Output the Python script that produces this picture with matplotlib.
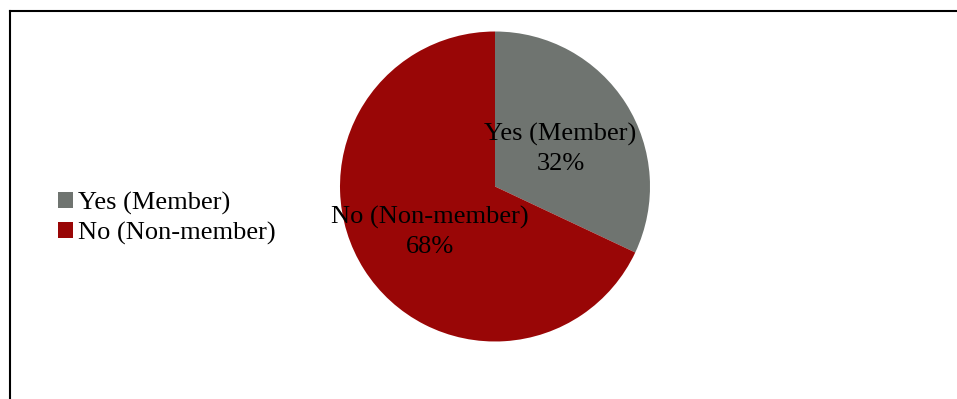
import matplotlib.pyplot as plt
from matplotlib.lines import Line2D

plt.rcParams['font.family'] = ['Liberation Serif', 'DejaVu Serif']

# Membership share
categories = ['Yes (Member)', 'No (Non-member)']
shares = [32, 68]
colors = ['#6f7470', '#990606']

W, H = 957, 399
fig = plt.figure(figsize=(W / 100, H / 100), dpi=100)

# Pie axes: square box, center (495, 186.5) px from top-left, radius 155 px
r = 155
cx, cy = 495, 186.5
ax = fig.add_axes([(cx - r) / W, (H - cy - r) / H, 2 * r / W, 2 * r / H])

labels = [f'{c}\n{s}%' for c, s in zip(categories, shares)]
wedges, texts = ax.pie(shares, labels=labels, colors=colors, startangle=90,
                       counterclock=False, labeldistance=0.5,
                       wedgeprops={'linewidth': 0},
                       textprops={'fontsize': 19, 'color': 'black',
                                  'linespacing': 1.4})
for t in texts:
    t.set_ha('center')
    t.set_va('center')
    x, y = t.get_position()
    t.set_position((x, y - 0.025))
ax.set_xlim(-1, 1)
ax.set_ylim(-1, 1)
ax.set_aspect('equal')

# Legend on the left
fig.legend(wedges, categories, loc='upper left',
           bbox_to_anchor=(58 / W, 1 - 192 / H), frameon=False,
           fontsize=19, handlelength=0.55, handleheight=0.55,
           handletextpad=0.2, labelspacing=0.25, borderpad=0,
           borderaxespad=0)

# Chart area border: top and left edges
fig.add_artist(Line2D([9.5 / W, 1], [1 - 10.5 / H, 1 - 10.5 / H],
                      color='black', linewidth=1.5, transform=fig.transFigure))
fig.add_artist(Line2D([9.5 / W, 9.5 / W], [0, 1 - 10.5 / H],
                      color='black', linewidth=1.5, transform=fig.transFigure))

fig.savefig('out.png', dpi=100)
